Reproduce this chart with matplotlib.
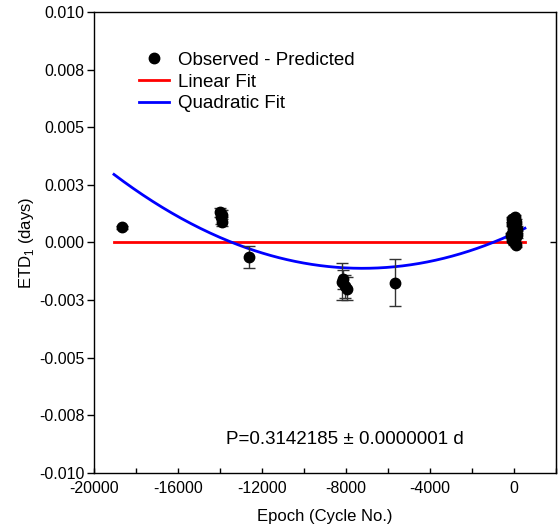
#!/usr/bin/env python3
"""O-C (ETD) diagram with linear and quadratic fits."""

from decimal import Decimal, ROUND_HALF_UP

import matplotlib

matplotlib.use("Agg")
import matplotlib.pyplot as plt
import numpy as np
from matplotlib.lines import Line2D
from matplotlib.ticker import MultipleLocator, FuncFormatter

plt.rcParams["font.family"] = ["Liberation Sans", "DejaVu Sans"]
plt.rcParams["mathtext.fontset"] = "custom"
plt.rcParams["mathtext.rm"] = "Liberation Sans"
plt.rcParams["axes.unicode_minus"] = False

# observed - predicted timings (epoch, days, error)
epoch = [-18690,
         -13990, -13950, -13920, -13900,
         -12600,
         -8200, -8150, -8050, -7950,
         -5660,
         -150, -120, -100, -80, -60, -40, -20, 0, 10, 30, 50, 70, 90, 110, 130, 150]
etd = [0.00065,
       0.0013, 0.0011, 0.0009, 0.0012,
       -0.00064,
       -0.0017, -0.0016, -0.0019, -0.0020,
       -0.00174,
       0.0003, 0.0008, 0.0010, 0.0001, 0.0006, 0.0009, 0.0004, 0.0000, 0.0007, 0.0011, 0.0002,
       0.0005, -0.0001, 0.0009, 0.0003, 0.0006]
etd_err = [0.00005,
           0.0002, 0.0003, 0.0002, 0.0002,
           0.00049,
           0.0008, 0.0004, 0.0005, 0.0005,
           0.00101,
           0.0001, 0.0001, 0.0001, 0.0001, 0.0001, 0.0001, 0.0001, 0.0001, 0.0001, 0.0001,
           0.0001, 0.0001, 0.0001, 0.0001, 0.0001, 0.0001]

# fits: coefficients (highest power first) and plotted epoch range
fit_range = [-19050, 520]
linear_coef = [0.0, 0.0]
quad_coef = [2.908e-11, 4.196e-7, 3.9e-4]

period_text = "P=0.3142185 \u00b1 0.0000001 d"


def fmt_days(v, pos):
    # round half away from zero, like the original software (0.0075 -> 0.008)
    d = Decimal(f"{float(v):.6f}").quantize(Decimal("0.001"), rounding=ROUND_HALF_UP)
    if d == 0:
        d = Decimal("0.000")
    return f"{d:.3f}"


fig = plt.figure(figsize=(5.58, 5.29), dpi=100)
ax = fig.add_axes([0.1685, 0.106, 0.828, 0.8715])

xf = np.linspace(fit_range[0], fit_range[1], 300)
ax.plot(xf, np.polyval(linear_coef, xf), color="red", lw=2, zorder=2)
ax.plot(xf, np.polyval(quad_coef, xf), color="blue", lw=2, zorder=3)
ax.errorbar(epoch, etd, yerr=etd_err, fmt="o", color="black", ms=7.5, ecolor="#333333",
            elinewidth=1, capsize=4.5, capthick=1, zorder=4)

ax.set_xlim(-20000, 2000)
ax.set_ylim(-0.01, 0.01)
ax.xaxis.set_major_locator(MultipleLocator(4000))
ax.xaxis.set_minor_locator(MultipleLocator(2000))
ax.yaxis.set_major_locator(MultipleLocator(0.0025))
ax.yaxis.set_major_formatter(FuncFormatter(fmt_days))
ax.tick_params(axis="x", which="both", direction="in", length=3.5, width=1, labelsize=11.5, pad=6)
ax.tick_params(axis="y", direction="out", length=5, width=1, labelsize=11.5, pad=2)
for s in ax.spines.values():
    s.set_linewidth(1)

right = ax.secondary_yaxis("right")
right.set_yticks([0.0])
right.tick_params(direction="in", length=4, width=1, labelright=False)

ax.set_xlabel("Epoch (Cycle No.)", fontsize=12, labelpad=9)
ax.set_ylabel("ETD$_1$ (days)", fontsize=12, labelpad=2)

handles = [
    Line2D([], [], ls="none", marker="o", color="black", ms=7.5),
    Line2D([], [], color="red", lw=2),
    Line2D([], [], color="blue", lw=2),
]
labels = ["Observed - Predicted", "Linear Fit", "Quadratic Fit"]
ax.legend(handles, labels, loc="upper left", bbox_to_anchor=(0.081, 0.93), frameon=False,
          fontsize=13.5, handlelength=1.6, handletextpad=0.5, labelspacing=0.25, borderaxespad=0)

ax.text(0.544, 0.0716, period_text, transform=ax.transAxes, ha="center", va="center", fontsize=13.5)

fig.savefig("out.png", dpi=100)
